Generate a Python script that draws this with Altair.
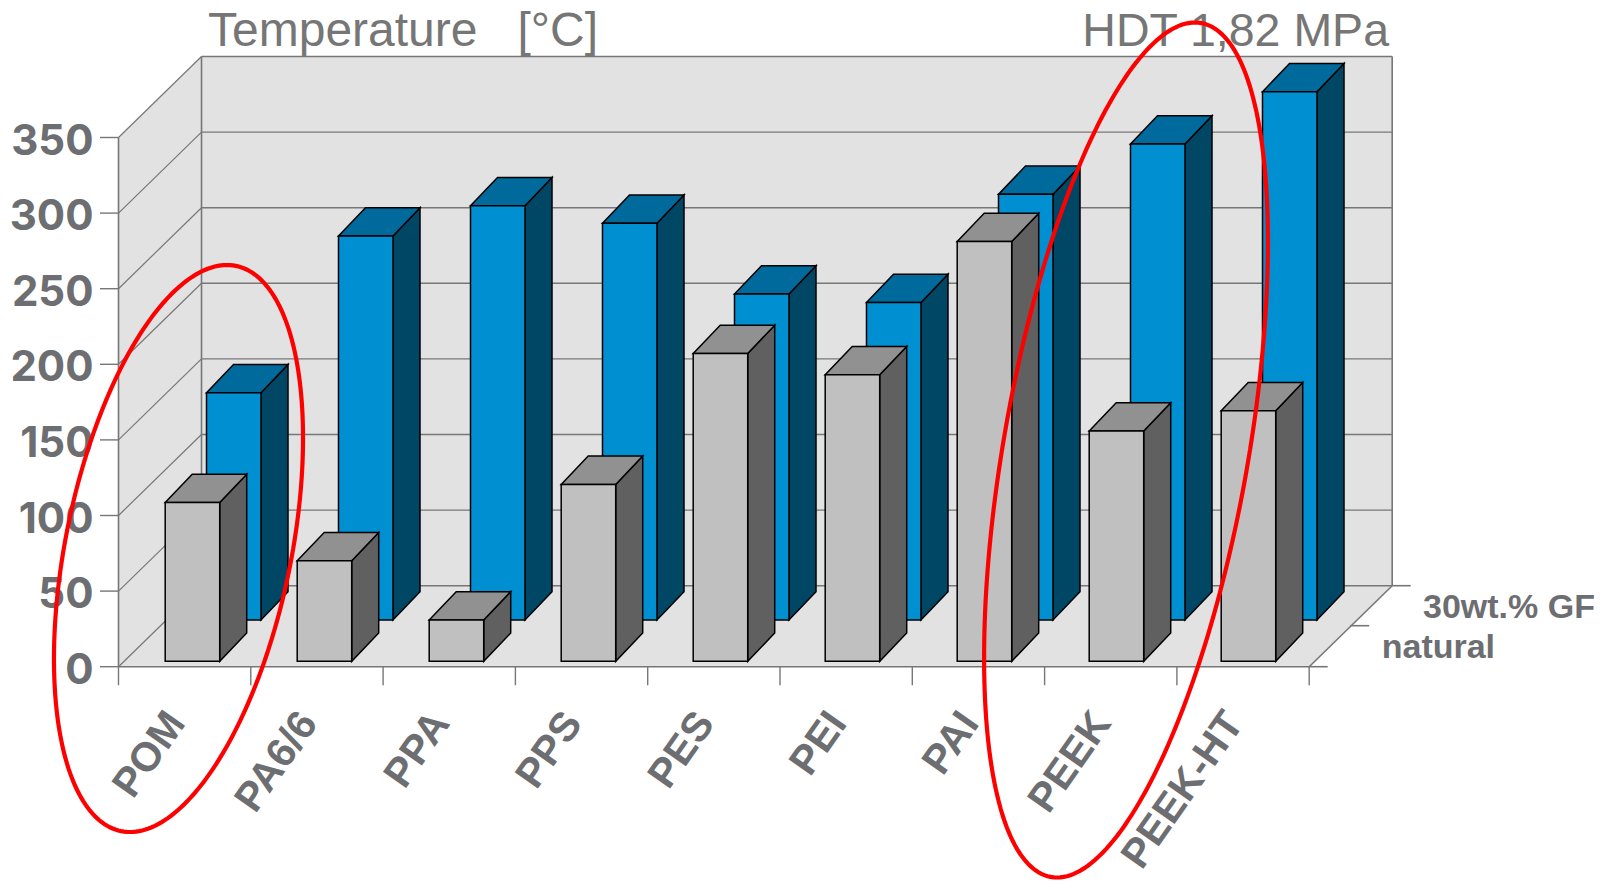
import math
import altair as alt
import pandas as pd

categories = ["POM", "PA6/6", "PPA", "PPS", "PES", "PEI", "PAI", "PEEK", "PEEK-HT"]
natural = [105, 66.5, 27.3, 117, 203.6, 189.5, 277.6, 152.3, 165.7]
glass_filled = [150.3, 254, 274, 262.4, 215.6, 210, 281.5, 314.8, 349.4]
y_ticks = [0, 50, 100, 150, 200, 250, 300, 350]

W, H = 1595, 872
PX_CAT, PX_DEG = 132.3, 1.512          # pixels per category, per degree
X0, Y0 = 110.5, 658.7                  # chart-space origin of the front plane
BACK_X, BACK_Y = 83.0, 81.0            # depth of the floor
BAR_PITCH = 132.0 / PX_CAT
BAR_OFF, BAR_W = 41.3 / PX_CAT, 54.5 / PX_CAT
BAR_DX, BAR_DY = 27.0, 28.3
NAT_DEPTH, GF_DEPTH = 5.4, 46.7
N = len(categories)

xs = alt.Scale(domain=[-X0 / PX_CAT, (W - X0) / PX_CAT], nice=False, zero=False)
ys = alt.Scale(domain=[(Y0 - H) / PX_DEG, Y0 / PX_DEG], nice=False, zero=False)


def X(f):
    return alt.X(f, type="quantitative", scale=xs, axis=None, title=None)


def Y(f):
    return alt.Y(f, type="quantitative", scale=ys, axis=None, title=None)


def X2(f):
    return alt.X2(f)


def Y2(f):
    return alt.Y2(f)


def cx(u, dx=0.0):
    return u + dx / PX_CAT


def cy(v, dy=0.0):
    return v + dy / PX_DEG


def rules(rows, color="#777777", width=1.4):
    df = pd.DataFrame(rows, columns=["x", "x2", "y", "y2"])
    return alt.Chart(df).mark_rule(color=color, strokeWidth=width).encode(
        x=X("x"), x2=X2("x2"), y=Y("y"), y2=Y2("y2"))


def bars(values, depth, front, top, side):
    fr, sd, tp = [], [], []
    for i, v in enumerate(values):
        l = i * BAR_PITCH + BAR_OFF
        r = l + BAR_W
        b = 0.0
        fr.append(dict(x=cx(l, depth), x2=cx(r, depth), y=cy(v, depth), y2=cy(b, depth)))
        sd.append(dict(id=i, x=cx(r, depth), y=cy(v, depth), y2=cy(b, depth)))
        sd.append(dict(id=i, x=cx(r, depth + BAR_DX), y=cy(v, depth + BAR_DY), y2=cy(b, depth + BAR_DY)))
        tp.append(dict(id=i, y=cy(v, depth), x=cx(l, depth), x2=cx(r, depth)))
        tp.append(dict(id=i, y=cy(v, depth + BAR_DY), x=cx(l, depth + BAR_DX), x2=cx(r, depth + BAR_DX)))
    st = dict(stroke="black", strokeWidth=1.5, strokeJoin="miter")
    return [
        alt.Chart(pd.DataFrame(sd)).mark_area(fill=side, **st).encode(
            x=X("x"), y=Y("y"), y2=Y2("y2"), detail="id:N"),
        alt.Chart(pd.DataFrame(tp)).mark_area(fill=top, orient="horizontal", **st).encode(
            y=Y("y"), x=X("x"), x2=X2("x2"), detail="id:N"),
        alt.Chart(pd.DataFrame(fr)).mark_rect(fill=front, **st).encode(
            x=X("x"), x2=X2("x2"), y=Y("y"), y2=Y2("y2")),
    ]


def ellipse(cx_, cy_, ay, shear, bx):
    # annotation ring in chart pixels, converted into the scales' units
    pts = []
    for k in range(241):
        t = 2 * math.pi * k / 240
        px = cx_ - 8 - shear * math.sin(t) + bx * math.cos(t)
        py = cy_ - 8 + ay * math.sin(t)
        pts.append(dict(o=k, x=(px - X0) / PX_CAT, y=(Y0 - py) / PX_DEG))
    return alt.Chart(pd.DataFrame(pts)).mark_line(color="#FF0000", strokeWidth=4.2).encode(
        x=X("x"), y=Y("y"), order="o:Q")


top_v = y_ticks[-1]
floor_back = cy(0, BACK_Y)
wall_color = "#E2E2E2"

back = alt.Chart(pd.DataFrame([dict(x=cx(0, BACK_X), x2=cx(N, BACK_X), y=cy(top_v, BACK_Y), y2=floor_back)])).mark_rect(
    fill=wall_color).encode(x=X("x"), x2=X2("x2"), y=Y("y"), y2=Y2("y2"))
left = alt.Chart(pd.DataFrame([
    dict(x=cx(0), y=cy(top_v), y2=cy(0)),
    dict(x=cx(0, BACK_X), y=cy(top_v, BACK_Y), y2=floor_back)])).mark_area(fill=wall_color).encode(
    x=X("x"), y=Y("y"), y2=Y2("y2"))
floor = alt.Chart(pd.DataFrame([
    dict(y=cy(0), x=cx(0), x2=cx(N)),
    dict(y=floor_back, x=cx(0, BACK_X), x2=cx(N, BACK_X))])).mark_area(fill=wall_color, orient="horizontal").encode(
    y=Y("y"), x=X("x"), x2=X2("x2"))

grid = [[cx(0, BACK_X), cx(N, BACK_X), cy(v, BACK_Y), cy(v, BACK_Y)] for v in y_ticks]
diag = [[cx(0), cx(0, BACK_X), cy(v), cy(v, BACK_Y)] for v in y_ticks]
ytick_rules = [[cx(0, -18.5), cx(0), cy(v), cy(v)] for v in y_ticks]
xtick_rules = [[i, i, cy(0), cy(0, -18.5)] for i in range(N + 1)]
frame = [
    [cx(0), cx(0), cy(0), cy(top_v)],
    [cx(0, BACK_X), cx(0, BACK_X), floor_back, cy(top_v, BACK_Y)],
    [cx(N, BACK_X), cx(N, BACK_X), floor_back, cy(top_v, BACK_Y)],
    [cx(0), cx(N), cy(0), cy(0)],
    [cx(N), cx(N, BACK_X), cy(0), floor_back],
    [cx(N, BACK_X), cx(N, BACK_X + 18.5), floor_back, floor_back],
    [cx(N, 41), cx(N, 60), cy(0, 41), cy(0, 41)],
    [cx(N), cx(N, 18.5), cy(0), cy(0)],
]

ylab = alt.Chart(pd.DataFrame(dict(v=y_ticks, t=[str(v) for v in y_ticks], x=[cx(0, -25)] * len(y_ticks)))).mark_text(
    font="Inter", fontWeight="bold", fontSize=42, color="#6D6E71", align="right", baseline="middle", dy=4).encode(
    x=X("x"), y=Y("v"), text="t:N")
xlab = alt.Chart(pd.DataFrame(dict(
    t=categories, x=[cx(i + 0.5, -8) for i in range(N)], y=[cy(0, -50) for _ in range(N)]))).mark_text(
    font="Liberation Sans", fontWeight="bold", fontSize=41, color="#6D6E71", align="right", baseline="middle", angle=305).encode(
    x=X("x"), y=Y("y"), text="t:N")


def label(text, x, y, size, align="left", bold=False, color="#6D6E71"):
    kw = dict(fontWeight="bold") if bold else {}
    return alt.Chart(pd.DataFrame(dict(t=[text]))).mark_text(
        font="Liberation Sans", fontSize=size, color=color, align=align, baseline="alphabetic", **kw).encode(
        x=alt.value(x - 8), y=alt.value(y - 8), text="t:N")


layers = [back, left, floor,
          rules(grid, width=1.4), rules(diag, width=1.2), rules(frame, width=1.6),
          rules(ytick_rules), rules(xtick_rules)]
layers += bars(glass_filled, GF_DEPTH, "#008FD0", "#006A9C", "#004766")
layers += bars(natural, NAT_DEPTH, "#C0C0C0", "#919191", "#606060")
layers += [
    ylab, xlab,
    label("Temperature\u00a0\u00a0\u00a0[°C]", 208, 45.7, 48, color="#767676"),
    label("HDT 1,82 MPa", 1389, 45.7, 46.5, align="right", color="#767676"),
    label("30wt.% GF", 1423, 617.7, 34, bold=True),
    label("natural", 1381.7, 658.3, 34, bold=True),
    ellipse(178.5, 548.5, 283.5, 48.5, 114.7),
    ellipse(1126, 450, 427.5, 69, 124),
]

chart = alt.layer(*layers).properties(
    width=W, height=H, padding=0, autosize=alt.AutoSizeParams(type="none"),
    background="white").configure_view(stroke=None)
chart.save("out.html", embed_options={"renderer": "svg", "actions": False})
